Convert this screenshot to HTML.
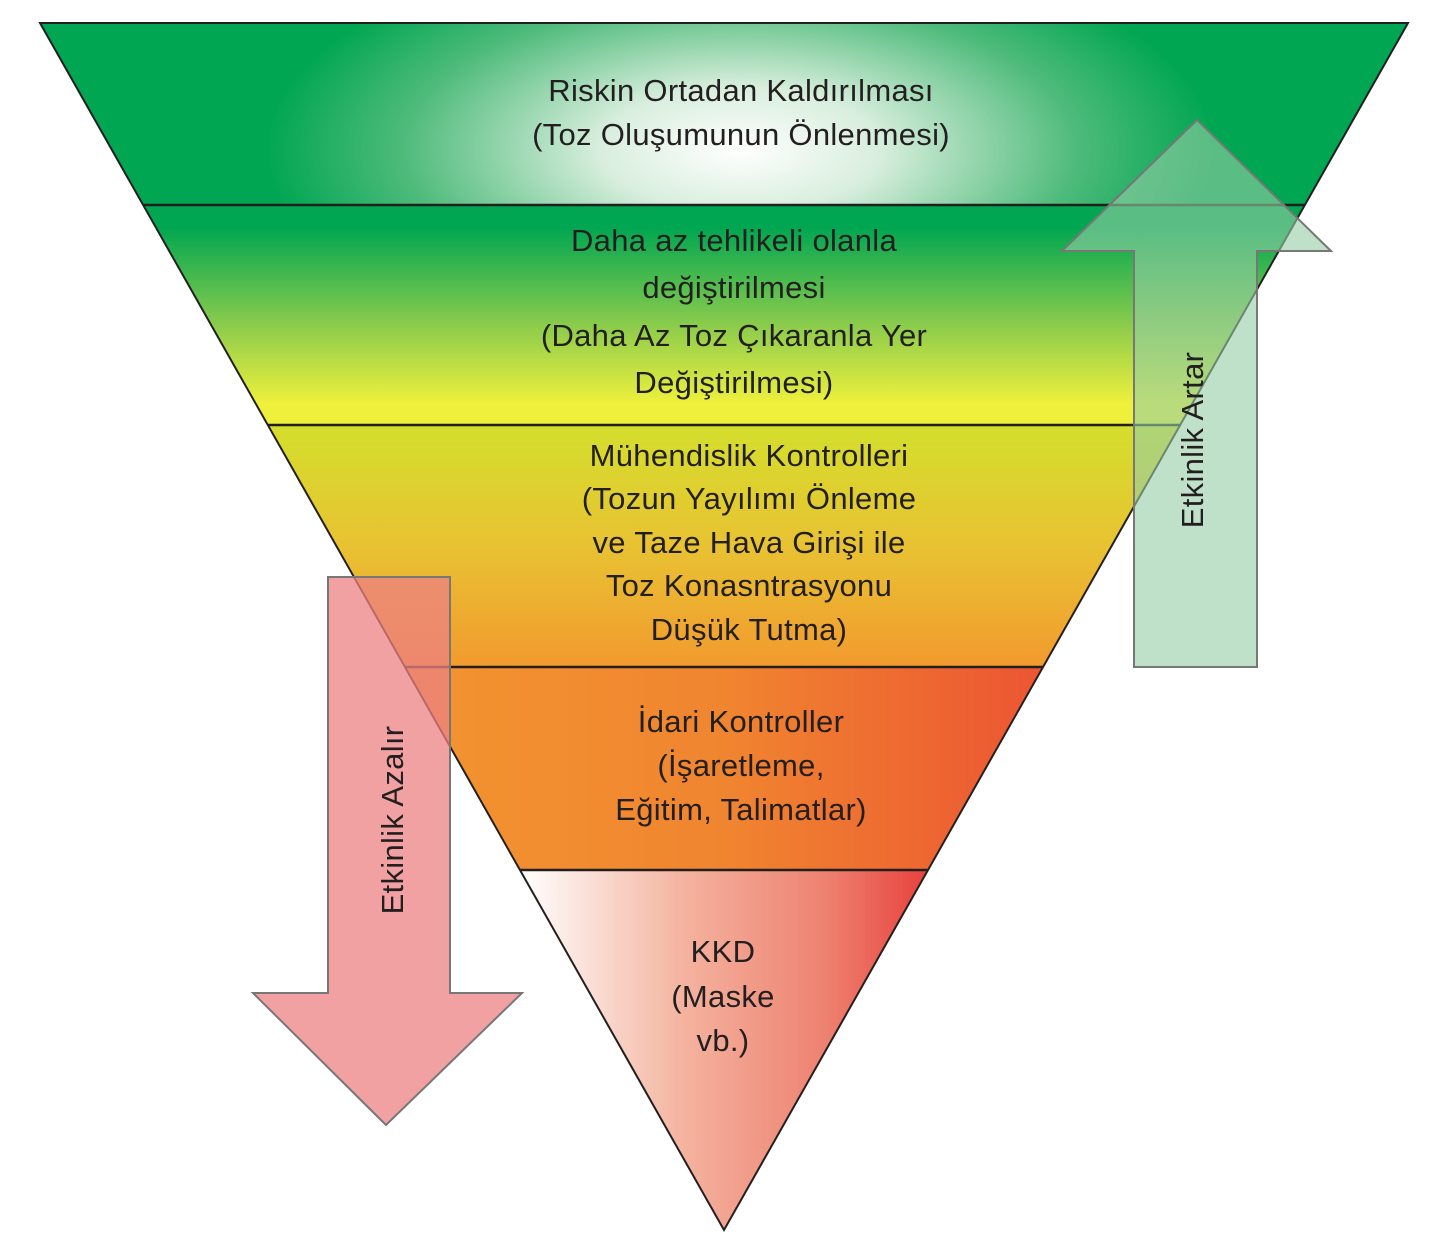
<!DOCTYPE html>
<html><head><meta charset="utf-8"><style>
html,body{margin:0;padding:0;background:#fff;}
svg{display:block;}
text{font-family:"Liberation Sans",sans-serif;font-size:31px;letter-spacing:0.3px;fill:#231f20;}
</style></head><body>
<svg width="1438" height="1247" viewBox="0 0 1438 1247" xmlns="http://www.w3.org/2000/svg">
<defs>
<radialGradient id="g1" cx="740" cy="150" r="560" gradientUnits="userSpaceOnUse" gradientTransform="translate(740 150) scale(1 0.45) translate(-740 -150)">
<stop offset="0" stop-color="#ffffff"/><stop offset="0.25" stop-color="#d8eedd"/><stop offset="0.6" stop-color="#4fbb7b"/><stop offset="0.85" stop-color="#00a651"/><stop offset="1" stop-color="#00a651"/>
</radialGradient>
<linearGradient id="g2" x1="0" y1="205" x2="0" y2="425" gradientUnits="userSpaceOnUse">
<stop offset="0.1" stop-color="#00a651"/><stop offset="0.55" stop-color="#8ccc4c"/><stop offset="0.9" stop-color="#eef03c"/><stop offset="1" stop-color="#eef03c"/>
</linearGradient>
<linearGradient id="g3" x1="0" y1="425" x2="0" y2="667" gradientUnits="userSpaceOnUse">
<stop offset="0" stop-color="#d4df2c"/><stop offset="0.5" stop-color="#e8c232"/><stop offset="1" stop-color="#f29a2e"/>
</linearGradient>
<linearGradient id="g4" x1="405" y1="0" x2="1043" y2="0" gradientUnits="userSpaceOnUse">
<stop offset="0" stop-color="#f39430"/><stop offset="0.5" stop-color="#f08530"/><stop offset="1" stop-color="#ec5532"/>
</linearGradient>
<linearGradient id="g5" x1="520" y1="0" x2="928" y2="0" gradientUnits="userSpaceOnUse">
<stop offset="0" stop-color="#ffffff"/><stop offset="0.4" stop-color="#f4b39f"/><stop offset="0.75" stop-color="#ee8170"/><stop offset="1" stop-color="#e8413c"/>
</linearGradient>
</defs>
<polygon points="40,23 1408,23 1305,205 143,205" fill="url(#g1)"/>
<polygon points="143,205 1305,205 1180,425 268,425" fill="url(#g2)"/>
<polygon points="268,425 1180,425 1043,667 405,667" fill="url(#g3)"/>
<polygon points="405,667 1043,667 928,870 520,870" fill="url(#g4)"/>
<polygon points="520,870 928,870 724,1230" fill="url(#g5)"/>
<polygon points="40,23 1408,23 724,1230" fill="none" stroke="#231f20" stroke-width="2"/>
<g stroke="#231f20" stroke-width="2.5">
<line x1="143" y1="205" x2="1305" y2="205"/>
<line x1="268" y1="425" x2="1180" y2="425"/>
<line x1="405" y1="667" x2="1043" y2="667"/>
<line x1="520" y1="870" x2="928" y2="870"/>
</g>
<polygon points="1134,667 1257,667 1257,251 1331,251 1197,120 1062,251 1134,251" fill="rgba(150,205,165,0.6)" stroke="#777" stroke-width="2"/>
<polygon points="328,577 450,577 450,993 522,993 386,1125 253,993 328,993" fill="rgba(236,130,130,0.75)" stroke="#777" stroke-width="2"/>
<g text-anchor="middle">
<text x="741" y="101">Riskin Ortadan Kaldırılması</text>
<text x="741" y="145">(Toz Oluşumunun Önlenmesi)</text>
<text x="734" y="251">Daha az tehlikeli olanla</text>
<text x="734" y="298">değiştirilmesi</text>
<text x="734" y="346">(Daha  Az Toz Çıkaranla Yer</text>
<text x="734" y="393">Değiştirilmesi)</text>
<text x="749" y="466">Mühendislik Kontrolleri</text>
<text x="749" y="509">(Tozun Yayılımı Önleme</text>
<text x="749" y="553">ve Taze Hava Girişi ile</text>
<text x="749" y="596">Toz Konasntrasyonu</text>
<text x="749" y="640">Düşük Tutma)</text>
<text x="741" y="732">İdari Kontroller</text>
<text x="741" y="776">(İşaretleme,</text>
<text x="741" y="820">Eğitim, Talimatlar)</text>
<text x="723" y="962">KKD</text>
<text x="723" y="1007">(Maske</text>
<text x="723" y="1051">vb.)</text>
<text transform="translate(1203,440) rotate(-90)">Etkinlik Artar</text>
<text transform="translate(403,820) rotate(-90)">Etkinlik Azalır</text>
</g>
</svg>
</body></html>
